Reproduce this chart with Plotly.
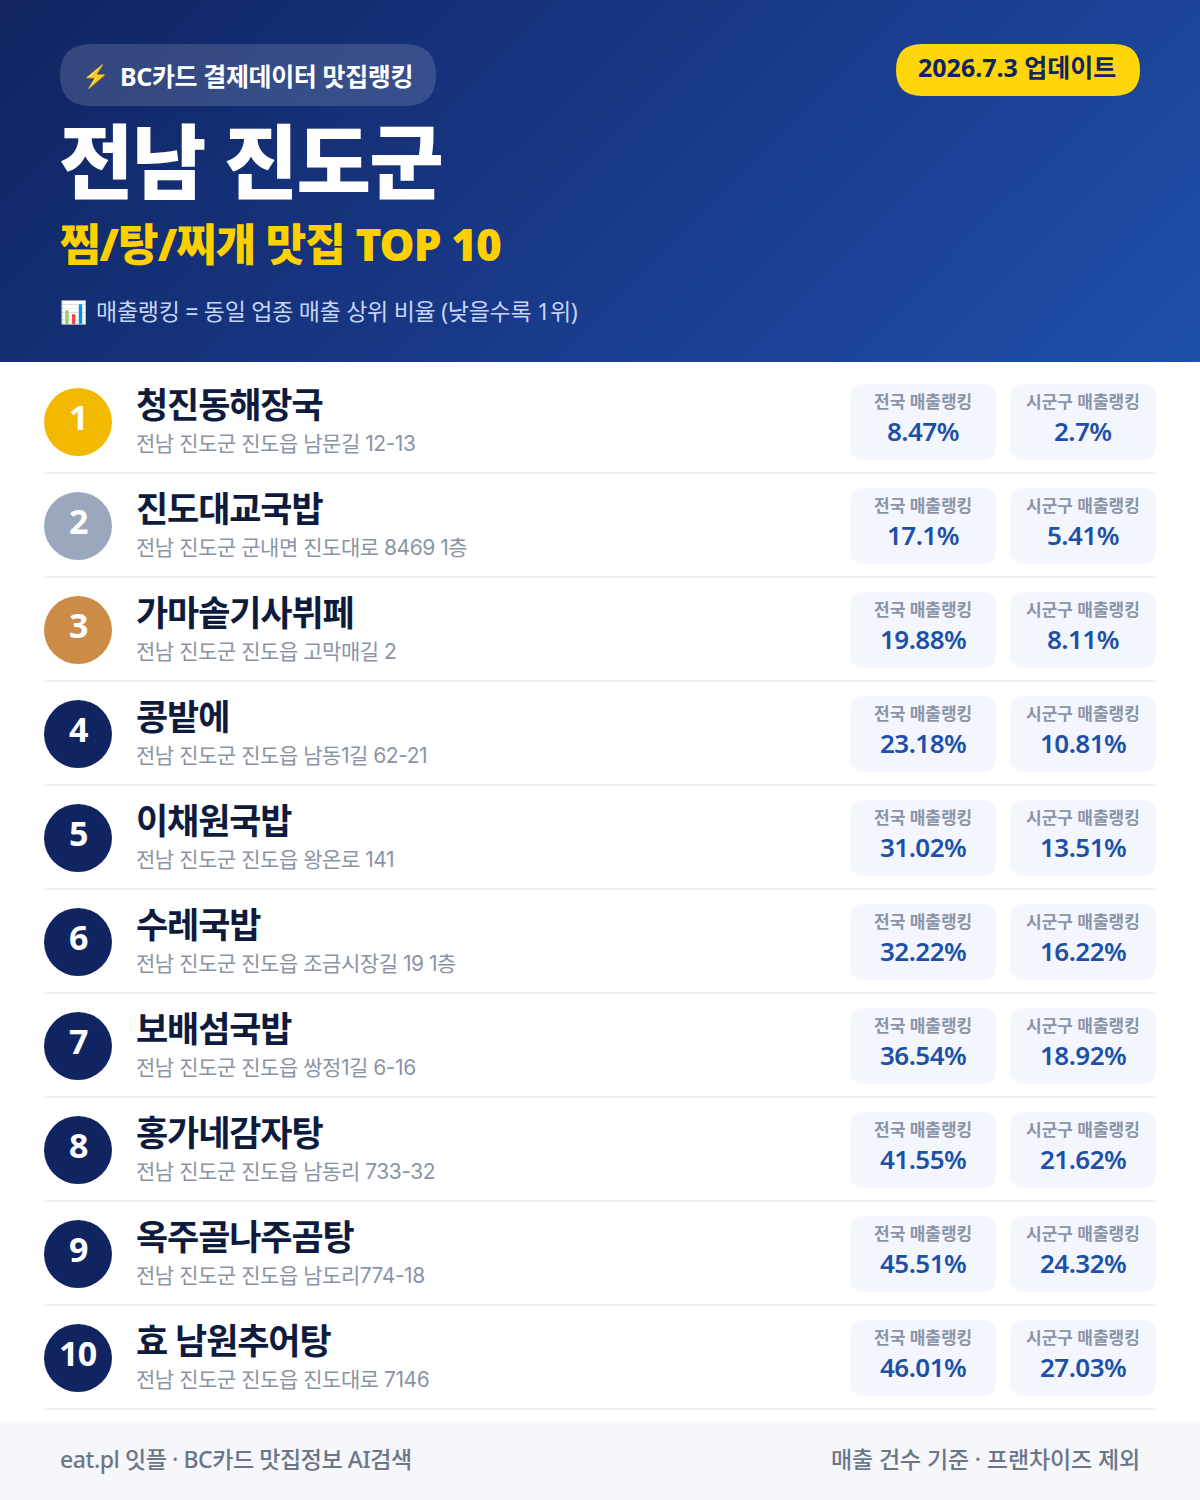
import base64
import plotly.graph_objects as go

ranks = list(range(1, 11))
names = ["청진동해장국", "진도대교국밥", "가마솥기사뷔페", "콩밭에", "이채원국밥", "수레국밥", "보배섬국밥", "홍가네감자탕", "옥주골나주곰탕", "효 남원추어탕"]
addresses = ["전남 진도군 진도읍 남문길 12-13", "전남 진도군 군내면 진도대로 8469 1층", "전남 진도군 진도읍 고막매길 2",
             "전남 진도군 진도읍 남동1길 62-21", "전남 진도군 진도읍 왕온로 141", "전남 진도군 진도읍 조금시장길 19 1층",
             "전남 진도군 진도읍 쌍정1길 6-16", "전남 진도군 진도읍 남동리 733-32", "전남 진도군 진도읍 남도리774-18",
             "전남 진도군 진도읍 진도대로 7146"]
national_rank = [8.47, 17.1, 19.88, 23.18, 31.02, 32.22, 36.54, 41.55, 45.51, 46.01]
local_rank = [2.7, 5.41, 8.11, 10.81, 13.51, 16.22, 18.92, 21.62, 24.32, 27.03]
circle_colors = ["#f2b900", "#9aa7bd", "#cd8b48"] + ["#0f2460"] * 7

FONT = "Noto Sans, Noto Sans CJK KR"
FONT_ADDR = "Inter, Noto Sans CJK KR"

def ls(text, em):
    return f'<span style="letter-spacing:{em}em">{text}</span>'

def rrect(x0, y0, x1, y1, r):
    return (f"M{x0+r},{y0} L{x1-r},{y0} Q{x1},{y0} {x1},{y0+r} L{x1},{y1-r} Q{x1},{y1} {x1-r},{y1} "
            f"L{x0+r},{y1} Q{x0},{y1} {x0},{y1-r} L{x0},{y0+r} Q{x0},{y0} {x0+r},{y0} Z")

W, H, HEAD = 1200, 1500, 362
svg = (f'<svg xmlns="http://www.w3.org/2000/svg" width="{W}" height="{HEAD}"><defs>'
       '<linearGradient id="g" gradientUnits="userSpaceOnUse" x1="209.5" y1="-209.5" x2="990.5" y2="571.5">'
       '<stop offset="0" stop-color="#0f2460"/><stop offset="0.6" stop-color="#1a3d8f"/><stop offset="1" stop-color="#1e50a8"/>'
       f'</linearGradient></defs><rect width="{W}" height="{HEAD}" fill="url(#g)"/></svg>')
grad = "data:image/svg+xml;base64," + base64.b64encode(svg.encode()).decode()

fig = go.Figure()
fig.add_trace(go.Scatter(x=[78] * 10, y=[422 + 104 * i for i in range(10)], mode="markers", hoverinfo="skip",
                         marker=dict(size=68, color=circle_colors, line=dict(width=0))))

shapes, ann = [], []
def T(x, y, text, size, color, anchor="left", weight=400, sp=-0.02, family=FONT):
    off = {"left": -2, "center": 0, "right": 2}[anchor]
    ann.append(dict(x=x + off, y=y, text=ls(text, sp), showarrow=False, xanchor=anchor, yanchor="middle", align=anchor,
                    xref="x", yref="y", font=dict(family=family, size=size, color=color, weight=weight)))
def R(x0, y0, x1, y1, r, fill):
    shapes.append(dict(type="path", path=rrect(x0, y0, x1, y1, r), fillcolor=fill, line=dict(width=0), layer="above"))

R(60, 44, 436, 106, 31, "rgba(255,255,255,0.15)")
T(82, 75, "⚡", 22, "#ffc83d", weight=700)
T(120, 76, "BC카드 결제데이터 맛집랭킹", 25, "#ffffff", weight=700, sp=-0.015)
R(896, 44, 1140, 96, 26, "#ffd60a")
T(1017, 67, "2026.7.3 업데이트", 25, "#0f2460", "center", 700, sp=0)
T(59, 160, "전남 진도군", 81, "#ffffff", weight=900, sp=-0.022)
T(60, 244, "찜/탕/찌개 맛집 TOP 10", 44, "#ffd000", weight=900, sp=-0.021)
T(60, 311, "📊", 22, "#c5d5f5")
T(96, 311, "매출랭킹 = 동일 업종 매출 상위 비율 (낮을수록 1위)", 23, "#c5d5f5", sp=-0.012)

for i in range(10):
    dy = 104 * i
    T(78, 417 + dy, str(ranks[i]), 34, "#ffffff", "center", 700)
    T(136, 404 + dy, names[i], 35, "#0f1b3d", weight=700, sp=-0.032)
    T(136, 443 + dy, addresses[i], 21, "#8a94a6", sp=-0.022, family=FONT_ADDR)
    shapes.append(dict(type="line", x0=44, x1=1156, y0=473 + dy, y1=473 + dy, line=dict(color="#eef0f3", width=2), layer="above"))
    R(850, 384 + dy, 996, 460 + dy, 14, "#f3f6fd")
    R(1010, 384 + dy, 1156, 460 + dy, 14, "#f3f6fd")
    T(923, 401 + dy, "전국 매출랭킹", 17, "#8a94a6", "center", 700, sp=0)
    T(1083, 401 + dy, "시군구 매출랭킹", 17, "#8a94a6", "center", 700, sp=0)
    T(923, 431 + dy, f"{national_rank[i]}%", 26, "#1e50a8", "center", 600)
    T(1083, 431 + dy, f"{local_rank[i]}%", 26, "#1e50a8", "center", 600)

shapes.append(dict(type="rect", x0=0, x1=W, y0=1422, y1=H, fillcolor="#f5f7fb", line=dict(width=0), layer="above"))
T(60, 1459, "eat.pl 잇플 · BC카드 맛집정보 AI검색", 23, "#6b7689", weight=500, sp=-0.018)
T(1140, 1459, "매출 건수 기준 · 프랜차이즈 제외", 23, "#6b7689", "right", 500, sp=-0.005)

fig.update_layout(width=W, height=H, margin=dict(l=0, r=0, t=0, b=0), paper_bgcolor="#ffffff", plot_bgcolor="rgba(0,0,0,0)",
                  showlegend=False, shapes=shapes, annotations=ann,
                  images=[dict(source=grad, xref="x", yref="y", x=0, y=0, sizex=W, sizey=HEAD, sizing="stretch",
                               xanchor="left", yanchor="top", layer="below")],
                  xaxis=dict(range=[0, W], visible=False, fixedrange=True),
                  yaxis=dict(range=[H, 0], visible=False, fixedrange=True))
fig.write_html("out.html", config=dict(displayModeBar=False),
               post_script="document.body.style.margin='0';")
